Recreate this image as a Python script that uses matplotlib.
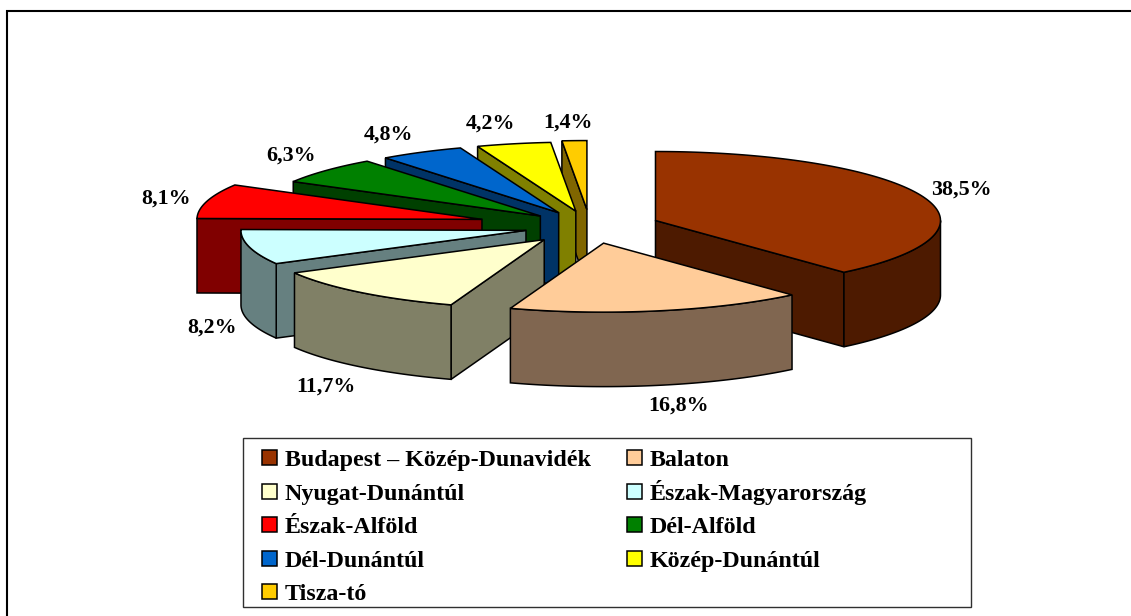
import numpy as np
import matplotlib
matplotlib.use("Agg")
import matplotlib.pyplot as plt
from matplotlib.patches import Rectangle

# ---- data ----
regions = ["Budapest – Közép-Dunavidék", "Balaton", "Nyugat-Dunántúl",
           "Észak-Magyarország", "Észak-Alföld", "Dél-Alföld",
           "Dél-Dunántúl", "Közép-Dunántúl", "Tisza-tó"]
shares = [38.5, 16.8, 11.7, 8.2, 8.1, 6.3, 4.8, 4.2, 1.4]
top_colors = ["#993300", "#FFCC99", "#FFFFCC", "#CCFFFF", "#FF0000",
              "#008000", "#0066CC", "#FFFF00", "#FFCC00"]
side_colors = ["#4D1A00", "#806650", "#808066", "#668080", "#800000",
               "#004000", "#003366", "#808000", "#806600"]
explode = [70, 70, 71, 66, 112, 66, 65, 65, 70]

# ---- layout (pixels of the figure) ----
W, H = 1131, 616
CX, CY = 590, 226.5
RX, RY = 285, 69
DEPTH = 74.5
draw_order = [8, 7, 6, 5, 4, 0, 3, 2, 1]
label_pos = [(961.5, 189.5), (679, 405.5), (326, 386.5), (212, 327.5), (166, 198.5),
             (291, 155.5), (389, 134.5), (491, 123.5), (568, 122.5)]
legend_rows = [457, 491, 524, 558, 591]
legend_cols = [(262, 285), (627, 650)]
SWATCH = 15
LW = 1.1

plt.rcParams["font.family"] = ["Liberation Serif", "DejaVu Serif"]
plt.rcParams["font.weight"] = "bold"

fig = plt.figure(figsize=(W / 100, H / 100), dpi=100, facecolor="white")
ax = fig.add_axes([0, 0, 1, 1])
ax.set_xlim(0, W)
ax.set_ylim(H, 0)
ax.axis("off")

# outer frame
ax.plot([7, 7, W], [H, 11, 11], color="black", lw=1.5, solid_joinstyle="miter")


def point(ax0, ay0, deg):
    t = np.radians(deg)
    return ax0 + RX * np.sin(t), ay0 - RY * np.cos(t)


edges = np.concatenate([[0], np.cumsum(shares)]) * 3.6
for i in draw_order:
    a0, a1 = edges[i], edges[i + 1]
    mid = np.radians((a0 + a1) / 2)
    px = CX + explode[i] * np.sin(mid)
    py = CY - explode[i] * np.cos(mid) * RY / RX
    side = dict(facecolor=side_colors[i], edgecolor="black", lw=LW)

    # radial cut faces that turn towards the viewer
    for ang, normal in ((a0, a0 - 90), (a1, a1 + 90)):
        if np.cos(np.radians(normal)) < 0:
            ex, ey = point(px, py, ang)
            ax.fill([px, ex, ex, px], [py, ey, ey + DEPTH, py + DEPTH], **side)

    # outer wall on the near half of the rim
    lo, hi = max(a0, 90), min(a1, 270)
    if hi > lo:
        tt = np.linspace(lo, hi, 80)
        xs, ys = point(px, py, tt)
        ax.fill(np.r_[xs, xs[::-1]], np.r_[ys, ys[::-1] + DEPTH], **side)

    # top surface
    tt = np.linspace(a0, a1, 120)
    xs, ys = point(px, py, tt)
    ax.fill(np.r_[px, xs], np.r_[py, ys], facecolor=top_colors[i],
            edgecolor="black", lw=LW)

for share, (lx, ly) in zip(shares, label_pos):
    ax.text(lx, ly, f"{share:.1f}%".replace(".", ","), ha="center", va="center",
            fontsize=15.8, fontweight="bold", color="black")

# legend: two columns, filled row by row
ax.add_patch(Rectangle((243, 438), 728, 169, facecolor="white",
                       edgecolor="#303030", lw=1.0))
for i, name in enumerate(regions):
    swatch_x, text_x = legend_cols[i % 2]
    row = legend_rows[i // 2]
    ax.add_patch(Rectangle((swatch_x, row - SWATCH / 2), SWATCH, SWATCH,
                           facecolor=top_colors[i], edgecolor="black", lw=LW))
    ax.text(text_x, row + 9, name, ha="left", va="baseline",
            fontsize=17.3, fontweight="bold", color="black")

fig.savefig("out.png", dpi=100)
